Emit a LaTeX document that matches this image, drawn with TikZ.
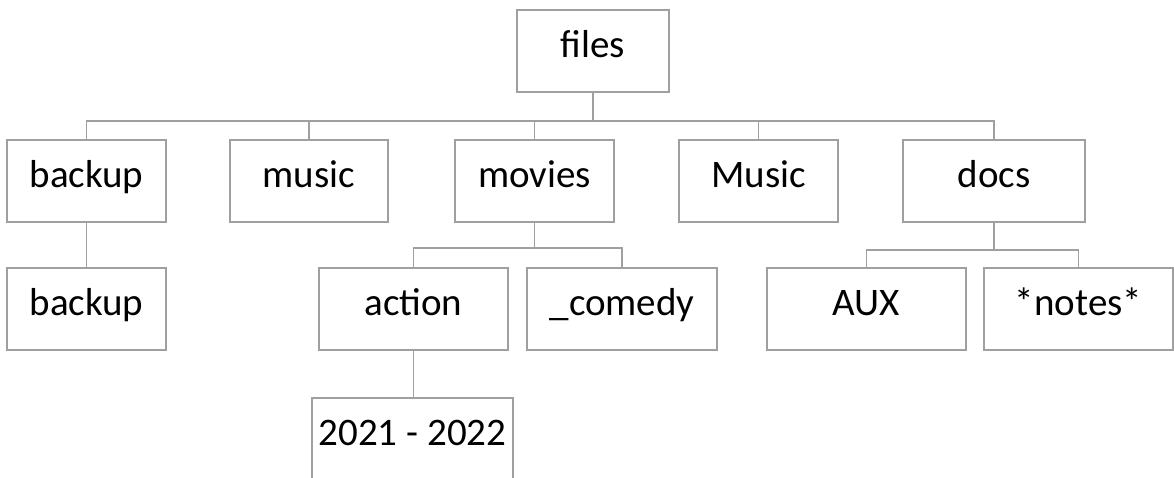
\documentclass[tikz,border=0pt]{standalone}
\usepackage{fontspec}
\setmainfont{Carlito}
\definecolor{linegray}{RGB}{160,160,160}
\begin{document}
\begin{tikzpicture}[x=1pt,y=-1pt,
  box/.style={draw=linegray, line width=1.8pt, fill=white, minimum height=82pt,
    inner sep=0pt, text=black, font=\fontsize{39}{42}\selectfont,
    text height=25pt, text depth=12pt},
  link/.style={draw=linegray, line width=1.8pt}]
\useasboundingbox (0,0) rectangle (1174,477);
\clip (0,0) rectangle (1174,477);

% root
\node[box, minimum width=152pt] (files) at (593,51) {files};

% first level
\node[box, minimum width=159pt] (backup)  at (86.5,181) {backup};
\node[box, minimum width=158pt] (music)   at (309,181)  {music};
\node[box, minimum width=159pt] (movies)  at (534.5,181) {movies};
\node[box, minimum width=159pt] (Music)   at (758.5,181) {Music};
\node[box, minimum width=182pt] (docs)    at (994,181)  {docs};

% second level
\node[box, minimum width=159pt] (backupsub) at (86.5,309)  {backup};
\node[box, minimum width=189pt] (action)    at (413.5,309) {action};
\node[box, minimum width=190pt] (comedy)    at (622,309)   {\_comedy};
\node[box, minimum width=199pt] (aux)       at (866.5,309) {AUX};
\node[box, minimum width=189pt] (notes)     at (1078.5,309) {*notes*};

% third level
\node[box, minimum width=201pt] (years) at (412.5,439) {2021 - 2022};

% bus lines
\coordinate (bus1) at (0,121);
\coordinate (bus2) at (0,248);
\coordinate (bus3) at (0,250);

\draw[link] (files.south) -- (files.south |- bus1);
\draw[link] (backup.north) -- (backup.north |- bus1) -- (docs.north |- bus1) -- (docs.north);
\draw[link] (music.north) -- (music.north |- bus1);
\draw[link] (movies.north) -- (movies.north |- bus1);
\draw[link] (Music.north) -- (Music.north |- bus1);

\draw[link] (backup.south) -- (backupsub.north);

\draw[link] (movies.south) -- (movies.south |- bus2);
\draw[link] (action.north) -- (action.north |- bus2) -- (comedy.north |- bus2) -- (comedy.north);

\draw[link] (docs.south) -- (docs.south |- bus3);
\draw[link] (aux.north) -- (aux.north |- bus3) -- (notes.north |- bus3) -- (notes.north);

\draw[link] (action.south) -- (action.south |- years.north);
\end{tikzpicture}
\end{document}
